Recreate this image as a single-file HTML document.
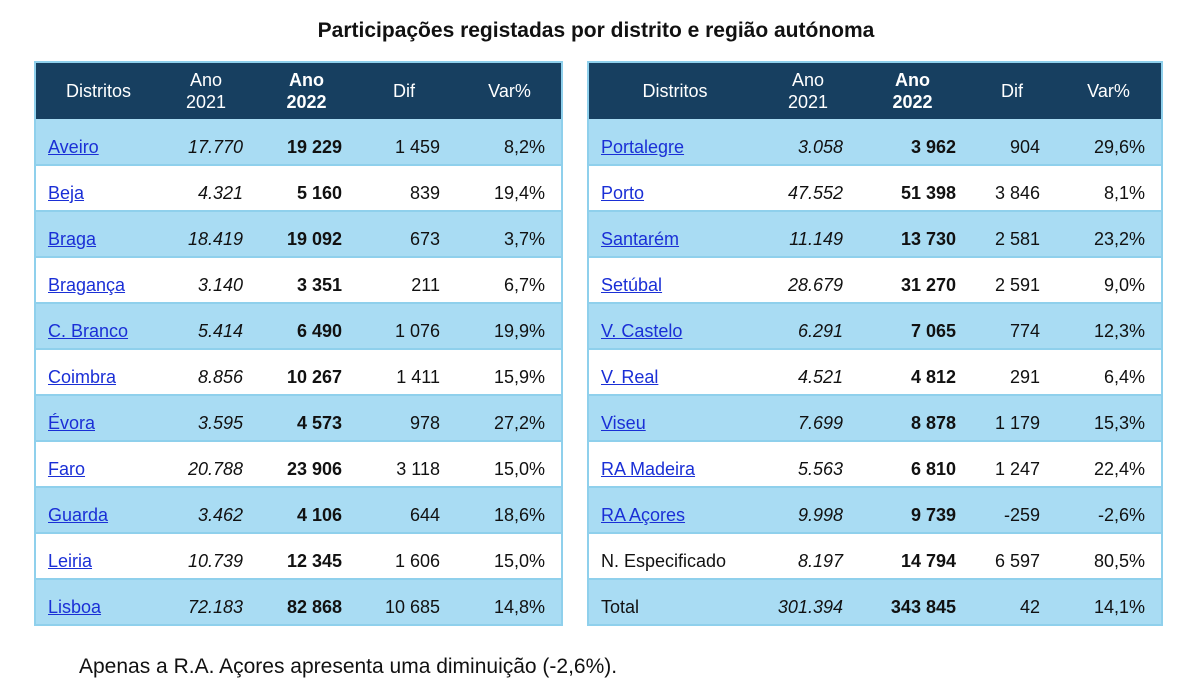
<!DOCTYPE html>
<html><head><meta charset="utf-8"><style>
body{margin:0;width:1200px;height:693px;background:#fff;position:relative;font-family:"Liberation Sans",sans-serif;overflow:hidden}
.t{position:absolute;top:19px;left:0;width:1192px;text-align:center;font-weight:bold;font-size:21px;color:#111}
table{position:absolute;top:61px;border-collapse:collapse;font-size:18px;color:#111;table-layout:fixed}
td{padding:11px 0 0 0;height:46px;text-align:right;border-bottom:2px solid #8fd0ec;box-sizing:border-box}
tr.h td{background:#173f60;color:#fff;height:57px;text-align:center;line-height:22px;border:none;padding-top:0}
tr.b td{background:#a9dcf3}
td.n{text-align:left}
a{color:#1a2fd6;text-decoration:underline}
i{font-style:italic}
table{border:2px solid #8fd0ec}
.f{position:absolute;left:79px;top:655px;font-size:21px;color:#111}
</style></head><body>
<div class="t">Participações registadas por distrito e região autónoma</div>
<table style="left:34px;width:527px">
<colgroup><col style="width:126px"><col style="width:90px"><col style="width:99px"><col style="width:98px"><col style="width:114px"></colgroup>
<tr class="h"><td>Distritos</td><td>Ano<br>2021</td><td style="font-weight:bold;padding-left:12px">Ano<br>2022</td><td style="padding-left:10px">Dif</td><td style="padding-left:10px">Var%</td></tr>
<tr class="b"><td class="n" style="padding-left:12px"><a>Aveiro</a></td><td style="padding-right:8px"><i>17.770</i></td><td style="padding-right:8px"><b>19 229</b></td><td style="padding-right:8px">1 459</td><td style="padding-right:16px">8,2%</td></tr>
<tr><td class="n" style="padding-left:12px"><a>Beja</a></td><td style="padding-right:8px"><i>4.321</i></td><td style="padding-right:8px"><b>5 160</b></td><td style="padding-right:8px">839</td><td style="padding-right:16px">19,4%</td></tr>
<tr class="b"><td class="n" style="padding-left:12px"><a>Braga</a></td><td style="padding-right:8px"><i>18.419</i></td><td style="padding-right:8px"><b>19 092</b></td><td style="padding-right:8px">673</td><td style="padding-right:16px">3,7%</td></tr>
<tr><td class="n" style="padding-left:12px"><a>Bragança</a></td><td style="padding-right:8px"><i>3.140</i></td><td style="padding-right:8px"><b>3 351</b></td><td style="padding-right:8px">211</td><td style="padding-right:16px">6,7%</td></tr>
<tr class="b"><td class="n" style="padding-left:12px"><a>C. Branco</a></td><td style="padding-right:8px"><i>5.414</i></td><td style="padding-right:8px"><b>6 490</b></td><td style="padding-right:8px">1 076</td><td style="padding-right:16px">19,9%</td></tr>
<tr><td class="n" style="padding-left:12px"><a>Coimbra</a></td><td style="padding-right:8px"><i>8.856</i></td><td style="padding-right:8px"><b>10 267</b></td><td style="padding-right:8px">1 411</td><td style="padding-right:16px">15,9%</td></tr>
<tr class="b"><td class="n" style="padding-left:12px"><a>Évora</a></td><td style="padding-right:8px"><i>3.595</i></td><td style="padding-right:8px"><b>4 573</b></td><td style="padding-right:8px">978</td><td style="padding-right:16px">27,2%</td></tr>
<tr><td class="n" style="padding-left:12px"><a>Faro</a></td><td style="padding-right:8px"><i>20.788</i></td><td style="padding-right:8px"><b>23 906</b></td><td style="padding-right:8px">3 118</td><td style="padding-right:16px">15,0%</td></tr>
<tr class="b"><td class="n" style="padding-left:12px"><a>Guarda</a></td><td style="padding-right:8px"><i>3.462</i></td><td style="padding-right:8px"><b>4 106</b></td><td style="padding-right:8px">644</td><td style="padding-right:16px">18,6%</td></tr>
<tr><td class="n" style="padding-left:12px"><a>Leiria</a></td><td style="padding-right:8px"><i>10.739</i></td><td style="padding-right:8px"><b>12 345</b></td><td style="padding-right:8px">1 606</td><td style="padding-right:16px">15,0%</td></tr>
<tr class="b"><td class="n" style="padding-left:12px"><a>Lisboa</a></td><td style="padding-right:8px"><i>72.183</i></td><td style="padding-right:8px"><b>82 868</b></td><td style="padding-right:8px">10 685</td><td style="padding-right:16px">14,8%</td></tr>
</table>
<table style="left:587px;width:574px">
<colgroup><col style="width:173px"><col style="width:90px"><col style="width:113px"><col style="width:84px"><col style="width:114px"></colgroup>
<tr class="h"><td>Distritos</td><td style="padding-left:4px">Ano<br>2021</td><td style="font-weight:bold;padding-left:10px">Ano<br>2022</td><td style="padding-left:12px">Dif</td><td style="padding-left:8px">Var%</td></tr>
<tr class="b"><td class="n" style="padding-left:12px"><a>Portalegre</a></td><td style="padding-right:8px"><i>3.058</i></td><td style="padding-right:8px"><b>3 962</b></td><td style="padding-right:8px">904</td><td style="padding-right:16px">29,6%</td></tr>
<tr><td class="n" style="padding-left:12px"><a>Porto</a></td><td style="padding-right:8px"><i>47.552</i></td><td style="padding-right:8px"><b>51 398</b></td><td style="padding-right:8px">3 846</td><td style="padding-right:16px">8,1%</td></tr>
<tr class="b"><td class="n" style="padding-left:12px"><a>Santarém</a></td><td style="padding-right:8px"><i>11.149</i></td><td style="padding-right:8px"><b>13 730</b></td><td style="padding-right:8px">2 581</td><td style="padding-right:16px">23,2%</td></tr>
<tr><td class="n" style="padding-left:12px"><a>Setúbal</a></td><td style="padding-right:8px"><i>28.679</i></td><td style="padding-right:8px"><b>31 270</b></td><td style="padding-right:8px">2 591</td><td style="padding-right:16px">9,0%</td></tr>
<tr class="b"><td class="n" style="padding-left:12px"><a>V. Castelo</a></td><td style="padding-right:8px"><i>6.291</i></td><td style="padding-right:8px"><b>7 065</b></td><td style="padding-right:8px">774</td><td style="padding-right:16px">12,3%</td></tr>
<tr><td class="n" style="padding-left:12px"><a>V. Real</a></td><td style="padding-right:8px"><i>4.521</i></td><td style="padding-right:8px"><b>4 812</b></td><td style="padding-right:8px">291</td><td style="padding-right:16px">6,4%</td></tr>
<tr class="b"><td class="n" style="padding-left:12px"><a>Viseu</a></td><td style="padding-right:8px"><i>7.699</i></td><td style="padding-right:8px"><b>8 878</b></td><td style="padding-right:8px">1 179</td><td style="padding-right:16px">15,3%</td></tr>
<tr><td class="n" style="padding-left:12px"><a>RA Madeira</a></td><td style="padding-right:8px"><i>5.563</i></td><td style="padding-right:8px"><b>6 810</b></td><td style="padding-right:8px">1 247</td><td style="padding-right:16px">22,4%</td></tr>
<tr class="b"><td class="n" style="padding-left:12px"><a>RA Açores</a></td><td style="padding-right:8px"><i>9.998</i></td><td style="padding-right:8px"><b>9 739</b></td><td style="padding-right:8px">-259</td><td style="padding-right:16px">-2,6%</td></tr>
<tr><td class="n" style="padding-left:12px">N. Especificado</td><td style="padding-right:8px"><i>8.197</i></td><td style="padding-right:8px"><b>14 794</b></td><td style="padding-right:8px">6 597</td><td style="padding-right:16px">80,5%</td></tr>
<tr class="b"><td class="n" style="padding-left:12px">Total</td><td style="padding-right:8px"><i>301.394</i></td><td style="padding-right:8px"><b>343 845</b></td><td style="padding-right:8px">42</td><td style="padding-right:16px">14,1%</td></tr>
</table>
<div class="f">Apenas a R.A. Açores apresenta uma diminuição (-2,6%).</div>
</body></html>
